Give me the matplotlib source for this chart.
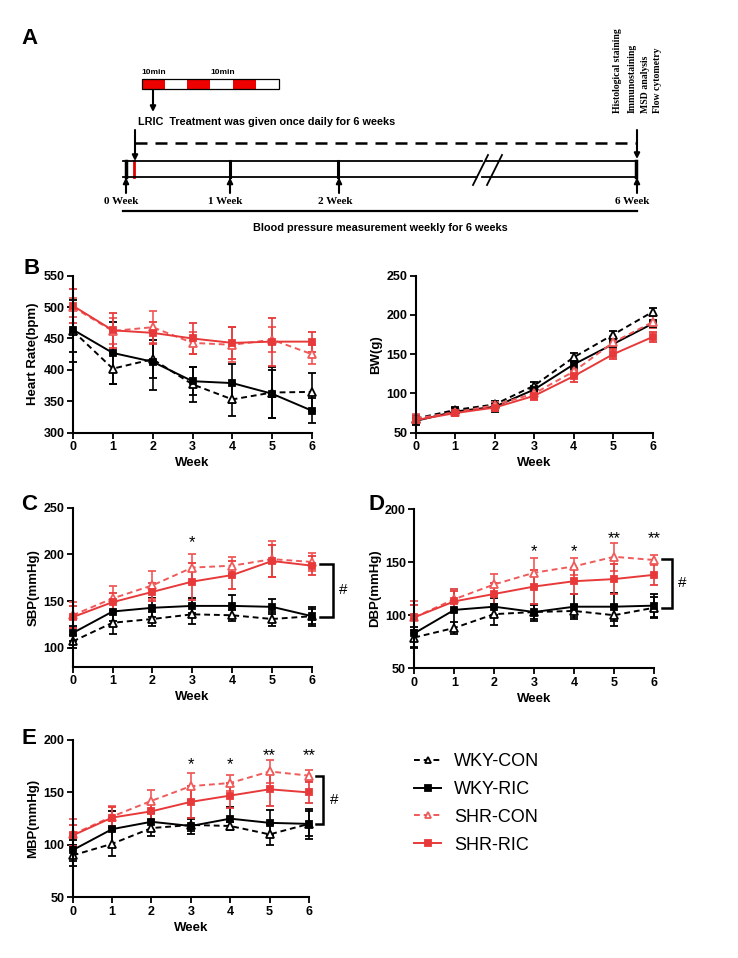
import matplotlib.pyplot as plt
from matplotlib.lines import Line2D
from matplotlib.patches import Rectangle

plt.rcParams['font.family'] = ['Liberation Sans', 'DejaVu Sans']

W, H = 738, 958

weeks = [0, 1, 2, 3, 4, 5, 6]
groups = ['WKY-CON', 'WKY-RIC', 'SHR-CON', 'SHR-RIC']

# heart rate (bpm), order as groups
hr_mean = [[462, 402, 417, 377, 353, 364, 365],
           [464, 427, 413, 382, 379, 362, 335],
           [500, 462, 468, 443, 440, 448, 425],
           [502, 463, 459, 450, 443, 445, 445]]
hr_err = [[50, 25, 30, 28, 26, 40, 30],
          [35, 49, 45, 22, 31, 38, 20],
          [15, 20, 25, 18, 28, 20, 15],
          [27, 28, 18, 25, 25, 38, 16]]

# body weight (g)
bw_mean = [[68, 79, 86, 110, 146, 175, 204],
           [65, 77, 83, 105, 137, 163, 189],
           [68, 76, 85, 100, 128, 165, 191],
           [66, 75, 82, 97, 122, 150, 172]]
bw_err = [[5, 4, 5, 5, 6, 5, 5],
          [5, 4, 6, 5, 6, 5, 5],
          [6, 4, 4, 5, 6, 7, 8],
          [5, 4, 4, 5, 7, 6, 6]]

# systolic BP
sbp_mean = [[107, 127, 131, 136, 135, 131, 134],
            [116, 139, 143, 145, 145, 144, 134],
            [135, 153, 167, 186, 188, 195, 192],
            [133, 149, 160, 171, 178, 193, 188]]
sbp_err = [[7, 12, 8, 10, 6, 8, 8],
           [8, 10, 10, 8, 12, 8, 10],
           [14, 13, 15, 15, 9, 19, 10],
           [12, 10, 10, 20, 15, 17, 10]]

# diastolic BP
dbp_mean = [[79, 88, 101, 103, 104, 100, 107],
            [83, 105, 108, 103, 108, 108, 109],
            [98, 115, 129, 140, 146, 155, 152],
            [98, 113, 120, 127, 132, 134, 138]]
dbp_err = [[10, 6, 10, 7, 6, 10, 10],
           [13, 20, 8, 8, 12, 13, 11],
           [15, 10, 10, 14, 8, 13, 5],
           [12, 10, 10, 16, 12, 14, 10]]

# mean BP
mbp_mean = [[90, 101, 116, 119, 118, 110, 120],
            [95, 115, 122, 118, 125, 121, 120],
            [110, 127, 142, 156, 159, 170, 166],
            [109, 126, 132, 141, 147, 153, 150]]
mbp_err = [[10, 12, 8, 6, 4, 10, 12],
           [10, 17, 8, 8, 11, 12, 14],
           [15, 10, 10, 13, 8, 11, 5],
           [10, 10, 8, 15, 12, 16, 10]]

# significance marks: week -> (label, height)
sbp_stars = {3: ('*', 217)}
dbp_stars = {3: ('*', 164), 4: ('*', 164), 5: ('**', 176), 6: ('**', 176)}
mbp_stars = {3: ('*', 181), 4: ('*', 181), 5: ('**', 189), 6: ('**', 189)}

RED = '#e8393a'
RED2 = '#ef5a5a'
DASH = (0, (3, 2))
styles = [dict(color='black', ls=DASH, marker='^', mfc='white', ms=6),
          dict(color='black', ls='-', marker='s', mfc='black', ms=5),
          dict(color=RED2, ls=DASH, marker='^', mfc='white', ms=6),
          dict(color=RED, ls='-', marker='s', mfc=RED, ms=5)]

fig = plt.figure(figsize=(W / 100, H / 100), dpi=100)


def rect(l, t, r, b):
    return [l / W, 1 - b / H, (r - l) / W, (b - t) / H]


def panel(ax, means, errs, ylim, yticks, ylabel, stars=None, bracket=None):
    for m, e, st in zip(means, errs, styles):
        c = ax.errorbar(weeks, m, yerr=e, color=st['color'], ls=st['ls'], lw=1.4,
                        marker=st['marker'], ms=st['ms'], mfc=st['mfc'],
                        mec=st['color'], mew=1.3, elinewidth=1.2, capsize=3,
                        capthick=1.2)
        for art in c.get_children():
            art.set_clip_on(False)
    ax.set_xlim(0, 6)
    ax.set_ylim(*ylim)
    ax.set_xticks(weeks)
    ax.set_yticks(yticks)
    for s in ['top', 'right']:
        ax.spines[s].set_visible(False)
    for s in ['left', 'bottom']:
        ax.spines[s].set_linewidth(1.5)
    ax.tick_params(direction='out', length=4, width=1.3, labelsize=9, pad=2)
    for lab in ax.get_xticklabels() + ax.get_yticklabels():
        lab.set_fontweight('bold')
    ax.set_xlabel('Week', fontsize=9.5, fontweight='bold', labelpad=3)
    ax.set_ylabel(ylabel, fontsize=9.5, fontweight='bold', labelpad=3)
    if stars:
        for wk, (s, y) in stars.items():
            ax.annotate(s, (wk, y), xytext=(0, -6.5), textcoords='offset points',
                        ha='center', va='baseline', fontsize=12, annotation_clip=False)
    if bracket:
        xl, xv, yt, yb, xh = bracket
        ax.plot([xl, xv, xv, xl], [yt, yt, yb, yb], color='black', lw=1.8,
                clip_on=False, solid_joinstyle='miter')
        ax.text(xh, (yt + yb) / 2, '#', ha='left', va='center', fontsize=11)


axB1 = fig.add_axes(rect(73, 275.7, 312, 432.7))
panel(axB1, hr_mean, hr_err, (300, 550), range(300, 551, 50), 'Heart Rate(bpm)')
axB2 = fig.add_axes(rect(415.7, 275.7, 652.7, 432.7))
panel(axB2, bw_mean, bw_err, (50, 250), range(50, 251, 50), 'BW(g)')
axC = fig.add_axes(rect(72.7, 507.7, 312, 666.7))
panel(axC, sbp_mean, sbp_err, (80, 250), range(100, 251, 50), 'SBP(mmHg)',
      sbp_stars, (6.2, 6.53, 190, 133, 6.68))
axD = fig.add_axes(rect(414.3, 509, 654, 668.3))
panel(axD, dbp_mean, dbp_err, (50, 200), range(50, 201, 50), 'DBP(mmHg)',
      dbp_stars, (6.2, 6.44, 153, 107, 6.6))
axE = fig.add_axes(rect(72.7, 740, 309, 897.3))
panel(axE, mbp_mean, mbp_err, (50, 200), range(50, 201, 50), 'MBP(mmHg)',
      mbp_stars, (6.18, 6.35, 166, 120, 6.53))

# panel letters
for lab, x, y in [('A', 30, 38), ('B', 32, 268), ('C', 29, 505), ('D', 377, 505), ('E', 29, 739)]:
    fig.text(x / W, 1 - y / H, lab, fontsize=16, fontweight='bold', ha='center', va='center')

# legend
handles = [Line2D([], [], color=st['color'], ls=st['ls'], lw=1.4, marker=st['marker'],
                  ms=st['ms'] - 1, mfc=st['mfc'], mec=st['color'], mew=1.3)
           for st in styles]
fig.legend(handles, groups, loc='upper left', bbox_to_anchor=(405 / W, 1 - 744 / H),
           frameon=False, fontsize=13, handlelength=1.5, handletextpad=0.7,
           labelspacing=0.6, borderpad=0)

# panel A: study timeline
axA = fig.add_axes([0, 1 - 245 / H, 1, 245 / H])
axA.set_xlim(0, W)
axA.set_ylim(245, 0)
axA.axis('off')

narrow = ['Liberation Sans Narrow', 'Liberation Sans', 'DejaVu Sans']
serif = ['Liberation Serif', 'DejaVu Serif']


def arrow(x0, y0, x1, y1):
    axA.annotate('', xy=(x1, y1), xytext=(x0, y0),
                 arrowprops=dict(arrowstyle='-|>', color='black', lw=1.5,
                                 mutation_scale=8, shrinkA=0, shrinkB=0))


# ischemia/reperfusion cycles
seg = (279 - 141.7) / 6
for i in range(6):
    axA.add_patch(Rectangle((141.7 + i * seg, 79), seg, 10,
                            facecolor='#ee0000' if i % 2 == 0 else 'white',
                            edgecolor='none'))
axA.add_patch(Rectangle((141.7, 79), 279 - 141.7, 10, fill=False, edgecolor='black', lw=0.9))
axA.text(141.7, 76, '10min', fontsize=6, fontweight='bold', family=narrow, va='bottom')
axA.text(210, 76, '10min', fontsize=6, fontweight='bold', family=narrow, va='bottom')
arrow(153, 90, 153, 112)
axA.text(138, 122, 'LRIC  Treatment was given once daily for 6 weeks', fontsize=7.8,
         fontweight='bold', family=narrow, va='center')

# dashed treatment period
axA.plot([135, 637], [143.3, 143.3], color='black', lw=1.8, dashes=(4.8, 3.2))
arrow(135, 130, 135, 161)
arrow(637, 130, 637, 159)

# timeline bar
axA.plot([125.5, 125.5], [160.7, 176.7], color='black', lw=2.5)
axA.plot([133.7, 133.7], [160.7, 176.7], color='#e00000', lw=2)
for x in [230, 338.3]:
    axA.plot([x, x], [160.7, 176.7], color='black', lw=2.2)
axA.plot([636, 636], [160.7, 176.7], color='black', lw=2.5)
axA.plot([473, 488], [185, 155], color='black', lw=1.3)
axA.plot([487, 502], [185, 155], color='black', lw=1.3)
axA.plot([486, 637], [160.7, 160.7], color='black', lw=1.3)
axA.plot([482, 637], [176.7, 176.7], color='black', lw=1.3)
axA.plot([123.3, 482], [160.7, 160.7], color='black', lw=1.3)
axA.plot([123.3, 477], [176.7, 176.7], color='black', lw=1.3)

for x, lab, cx in [(126, '0 Week', 121), (230, '1 Week', 225), (339, '2 Week', 335), (637, '6 Week', 632)]:
    arrow(x, 193, x, 177.5)
    axA.text(cx, 201, lab, fontsize=8, fontweight='bold', family=serif, ha='center', va='center')

axA.plot([123, 637], [210.7, 210.7], color='black', lw=1.6)
axA.text(380, 227.7, 'Blood pressure measurement weekly for 6 weeks', fontsize=7.8,
         fontweight='bold', family=narrow, ha='center', va='center')

for x, lab in [(617, 'Histological staining'), (632, 'Immunostaining'),
               (645, 'MSD analysis'), (657, 'Flow cytometry')]:
    axA.text(x, 113, lab, rotation=90, fontsize=7, fontweight='bold', family=serif,
             ha='center', va='bottom')

fig.savefig('out.png', dpi=100)
